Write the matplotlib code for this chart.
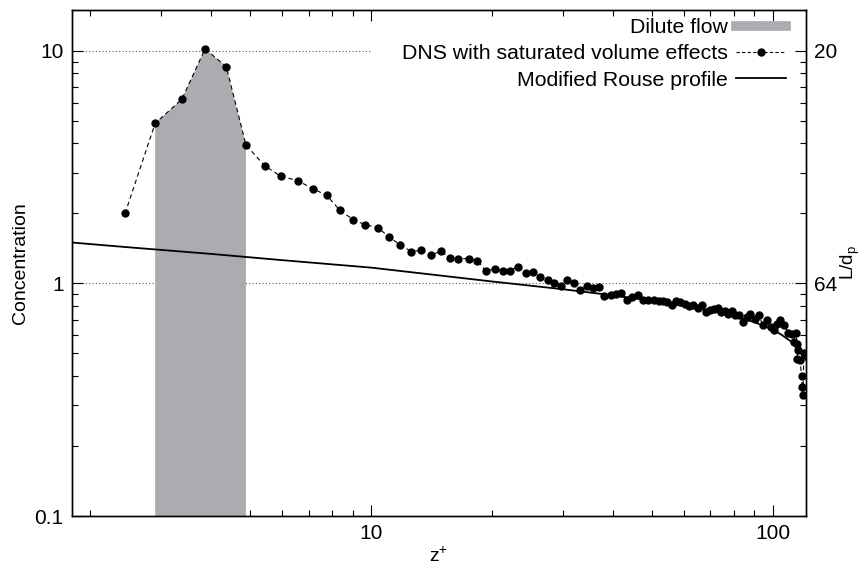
import matplotlib
matplotlib.use("Agg")
import matplotlib.pyplot as plt
from matplotlib.lines import Line2D
from matplotlib.ticker import FixedLocator, NullFormatter, LogLocator

plt.rcParams['font.family'] = ['Liberation Sans', 'DejaVu Sans']
plt.rcParams['mathtext.default'] = 'regular'

# DNS with saturated volume effects
dns_z = [2.44, 2.90, 3.38, 3.86, 4.36, 4.88, 5.43, 5.96, 6.56, 7.15, 7.76, 8.37, 9.04, 9.66,
         10.4, 11.1, 11.8, 12.6, 13.3, 14.1, 14.9, 15.7, 16.5, 17.5, 18.4, 19.3, 20.3, 21.3,
         22.2, 23.2, 24.3, 25.3, 26.3, 27.5, 28.5, 29.7, 30.8, 32.0, 33.2, 34.4, 35.6, 36.9,
         38.0, 39.5, 40.7, 42.0, 43.4, 44.7, 46.1, 47.6, 49.0, 50.5, 52.0, 53.3, 54.7, 56.0,
         57.3, 58.9, 60.4, 61.9, 63.3, 65.0, 66.5, 68.2, 69.9, 71.4, 73.0, 74.4, 76.0, 77.5,
         79.1, 80.6, 82.2, 84.3, 86.3, 88.0, 90.2, 92.6, 94.4, 96.7, 98.8, 100.5, 102.5, 104.5,
         106.5, 109.4, 112.0, 112.7, 114.2, 114.9, 115.5, 114.9, 117.0, 118.0, 118.5, 119.0, 119.5]
dns_c = [2.00, 4.88, 6.20, 10.2, 8.57, 3.94, 3.21, 2.89, 2.77, 2.56, 2.39, 2.06, 1.88, 1.79,
         1.74, 1.58, 1.47, 1.37, 1.39, 1.32, 1.38, 1.29, 1.28, 1.28, 1.255, 1.13, 1.156, 1.137,
         1.137, 1.18, 1.11, 1.12, 1.064, 1.03, 1.00, 0.974, 1.037, 1.00, 0.934, 0.974, 0.958, 0.97,
         0.882, 0.894, 0.897, 0.909, 0.851, 0.873, 0.888, 0.851, 0.845, 0.845, 0.839, 0.837, 0.832, 0.81,
         0.837, 0.832, 0.813, 0.797, 0.81, 0.784, 0.805, 0.753, 0.766, 0.774, 0.784, 0.753, 0.759, 0.741,
         0.759, 0.734, 0.729, 0.682, 0.717, 0.741, 0.706, 0.729, 0.66, 0.694, 0.65, 0.629, 0.671, 0.694,
         0.665, 0.614, 0.604, 0.56, 0.612, 0.551, 0.516, 0.475, 0.467, 0.40, 0.36, 0.33, 0.50]

# modified Rouse profile
rouse_z = [1.8, 2.5, 4, 6, 10, 15, 20, 30, 40, 50, 60, 70, 80, 90, 100, 105, 110, 113, 116, 118, 120, 121]
rouse_c = [1.50, 1.43, 1.34, 1.26, 1.17, 1.08, 1.02, 0.945, 0.889, 0.843, 0.80, 0.763, 0.724, 0.682,
           0.633, 0.603, 0.57, 0.55, 0.52, 0.50, 0.48, 0.47]

# dilute flow band: DNS points 1..5
band_first, band_last = 1, 5

xlim = (1.8, 121)
ylim = (0.1, 15)
right_ticks = [10, 1]
right_labels = ['20', '64']

fig = plt.figure(figsize=(8.63, 5.67), dpi=100)
ax = fig.add_axes([0.0834, 0.0899, 0.8505, 0.8925])
ax.set_xscale('log')
ax.set_yscale('log')
ax.set_xlim(*xlim)
ax.set_ylim(*ylim)

ax.hlines(10, xlim[0], 10, colors='#555555', linestyles=(0, (1, 2)), linewidth=0.8, zorder=1)
ax.axhline(1, color='#555555', linestyle=(0, (1, 2)), linewidth=0.8, zorder=1)

ax.fill_between(dns_z[band_first:band_last + 1], 0.01, dns_c[band_first:band_last + 1],
                color='#abacaf', linewidth=0, zorder=2)
ax.plot(rouse_z, rouse_c, color='black', linewidth=1.3, zorder=3)
ax.plot(dns_z, dns_c, color='black', linestyle=(0, (4, 3)), linewidth=0.8,
        marker='o', markersize=5, zorder=4)

ax.set_xticks([10, 100])
ax.set_xticklabels(['10', '100'])
ax.set_yticks([0.1, 1, 10])
ax.set_yticklabels(['0.1', '1', '10'])
ax.xaxis.set_minor_locator(LogLocator(subs=range(2, 10)))
ax.yaxis.set_minor_locator(LogLocator(subs=range(2, 10)))
ax.xaxis.set_minor_formatter(NullFormatter())
ax.yaxis.set_minor_formatter(NullFormatter())
ax.tick_params(which='both', direction='in', top=True, labelsize=15, width=0.8)
ax.tick_params(which='major', length=8, pad=6)
ax.tick_params(which='minor', length=4)
ax.set_xlabel('z$^{+}$', fontsize=14, labelpad=2)
ax.set_ylabel('Concentration', fontsize=14, labelpad=4)

ax2 = ax.twinx()
ax2.set_yscale('log')
ax2.set_ylim(*ylim)
ax2.yaxis.set_major_locator(FixedLocator(right_ticks))
ax2.set_yticklabels(right_labels)
ax2.yaxis.set_minor_locator(LogLocator(subs=range(2, 10)))
ax2.yaxis.set_minor_formatter(NullFormatter())
ax2.tick_params(which='both', direction='in', labelsize=15, width=0.8)
ax2.tick_params(which='major', length=8, pad=6)
ax2.tick_params(which='minor', length=4)
ax2.set_ylabel('L/d$_{p}$', fontsize=13.5, labelpad=1)
ax.tick_params(right=False)

for a in (ax, ax2):
    for s in a.spines.values():
        s.set_linewidth(1.0)

handles = [Line2D([], [], color='#abacaf', linewidth=7),
           Line2D([], [], color='black', linestyle=(0, (3, 2)), linewidth=0.8, marker='o', markersize=5),
           Line2D([], [], color='black', linewidth=1.3)]
labels = ['Dilute flow', 'DNS with saturated volume effects', 'Modified Rouse profile']
ax2.legend(handles, labels, loc='upper right', bbox_to_anchor=(0.9728, 0.984), fontsize=15.3,
           markerfirst=False, frameon=False, handlelength=2.35, handletextpad=0.4,
           labelspacing=0.34, borderpad=0, borderaxespad=0, numpoints=1)

fig.savefig('out.png', dpi=100)
